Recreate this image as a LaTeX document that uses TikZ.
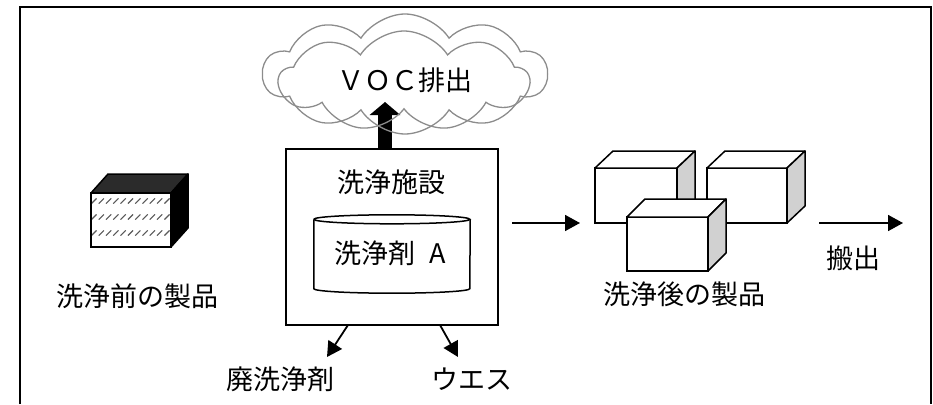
\documentclass[tikz,border=0pt]{standalone}
\usepackage{fontspec}
\newfontfamily\jp{Noto Sans CJK JP}
\usetikzlibrary{arrows.meta,calc,shapes.symbols}

\tikzset{
  label/.style={font=\jp\fontsize{27}{30}\selectfont, inner sep=0pt},
  frame/.style={line width=2pt},
  plant/.style={draw, line width=1.5pt, inner sep=0pt, outer sep=0pt},
  flow/.style={line width=1.6pt, -{Triangle[length=15pt,width=16pt]}},
  outflow/.style={line width=1.8pt, -{Triangle[length=15pt,width=16pt]}},
  exhaust/.style={line width=14pt, -{Triangle[length=13pt,width=30pt]}},
  puff/.style={cloud, cloud puff arc=115, draw=black!45,
    line width=1.3pt, inner sep=0pt},
  prismface/.style={draw, line width=1.5pt, inner sep=0pt, outer sep=0pt},
  prismedge/.style={draw, line width=1.5pt, line join=round},
}

% #1 name, #2 centre of front face, #3 width, #4 height,
% #5 depth offset, #6 front fill, #7 top fill, #8 side fill
\newcommand\prism[8]{%
  \node[prismface, fill=#6, minimum width=#3, minimum height=#4] (#1) at (#2) {};
  \draw[prismedge, fill=#7] (#1.north west) -- ++(#5) -- ($(#1.north east)+(#5)$)
    -- (#1.north east) -- cycle;
  \draw[prismedge, fill=#8] (#1.north east) -- ++(#5) -- ($(#1.south east)+(#5)$)
    -- (#1.south east) -- cycle;
}

\begin{document}
\begin{tikzpicture}[x=1pt, y=-1pt]
  \useasboundingbox (0,0) rectangle (933,404);

  % open frame
  \draw[frame] (20,404) -- (20,7) -- (931,7) -- (931,404);

  % uncleaned product
  \prism{raw}{131,220}{80}{54}{17,-19}{white}{black!83}{black}
  \begin{scope}
    \clip (raw.south west) rectangle (raw.north east);
    \foreach \yy in {201,217,233,249}
      \foreach \xx in {94,101.3,...,172}
        \draw[black!65, line width=1.1pt] (\xx-2.6,\yy+2.6) -- (\xx+2.6,\yy-2.6);
  \end{scope}
  \draw[prismedge] (raw.south west) rectangle (raw.north east);
  \node[label] (rawtxt) at (137,296) {洗浄前の製品};

  % washing plant
  \node[plant, minimum width=212, minimum height=176] (plant) at (392,237) {};
  \node[label] (planttxt) at (391,182) {洗浄施設};

  % solvent tank
  \node[inner sep=0pt, minimum width=156, minimum height=78] (tank) at (392,254) {};
  \draw[line width=1.5pt]
    (tank.north west) ++(0,4.5) arc[start angle=180, end angle=540, x radius=78, y radius=4.5];
  \draw[line width=1.5pt]
    ($(tank.north west)+(0,4.5)$) -- ($(tank.south west)+(0,-4.5)$)
    arc[start angle=180, end angle=360, x radius=78, y radius=-4.5]
    -- ($(tank.north east)+(0,4.5)$);
  \node[label] (tanktxt) at (390,253) {洗浄剤\hspace{0.5em}A};

  % exhaust to atmosphere
  \coordinate (vocin) at (385,102);
  \draw[exhaust] ([xshift=-7pt]plant.north) -- (vocin);
  \node[puff, cloud puffs=10, minimum width=284, minimum height=120] (cloudback) at (405,74) {};
  \node[puff, cloud puffs=9, minimum width=250, minimum height=100] (cloudfront) at (404,81) {};
  \node[label] (voctxt) at (405,80) {ＶＯＣ排出};

  % waste streams
  \coordinate (waste1) at (327,357);
  \coordinate (waste2) at (458,357);
  \draw[outflow] ([xshift=-44pt]plant.south) -- (waste1);
  \draw[outflow] ([xshift=48pt]plant.south) -- (waste2);
  \node[label] (waste1txt) at (280,379) {廃洗浄剤};
  \node[label] (waste2txt) at (472,379) {ウエス};

  % to cleaned products
  \coordinate (mid1) at (512,223);
  \coordinate (mid2) at (580,223);
  \draw[flow] (mid1) -- (mid2);

  % cleaned products
  \prism{done1}{636,195.5}{82}{55}{18,-17}{white}{white}{black!18}
  \prism{done2}{747,195.5}{80}{55}{18,-17}{white}{white}{black!18}
  \prism{done3}{667.5,244}{81}{54}{18,-18}{white}{white}{black!18}
  \node[label] (donetxt) at (684,294) {洗浄後の製品};

  % carry out
  \coordinate (out1) at (819,223);
  \coordinate (out2) at (903,223);
  \draw[flow] (out1) -- (out2);
  \node[label] (outtxt) at (853,258) {搬出};
\end{tikzpicture}
\end{document}
